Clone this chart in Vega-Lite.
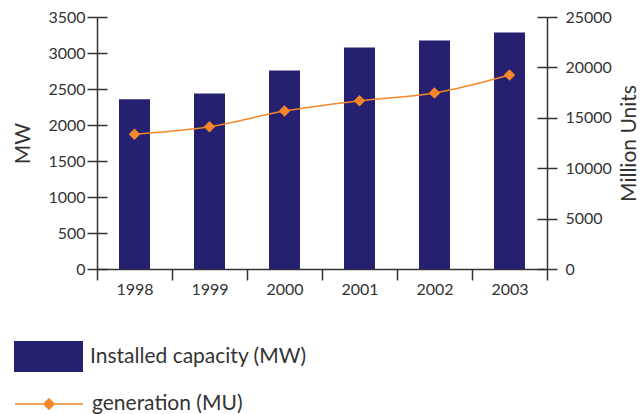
{
  "$schema": "https://vega.github.io/schema/vega-lite/v6.json",
  "width": 450,
  "height": 252,
  "autosize": {"type": "none"},
  "padding": {"left": 97, "top": 17, "right": 96, "bottom": 145},
  "background": "white",
  "config": {
    "view": {"stroke": null},
    "font": "Lato",
    "axis": {"labelFont": "Lato", "titleFont": "Lato", "labelColor": "#333333", "titleColor": "#333333", "domainColor": "#333333", "tickColor": "#333333", "domainWidth": 1.5, "tickWidth": 1.5, "labelFontSize": 16, "titleFontSize": 21, "titleFontWeight": "normal", "grid": false},
    "legend": {"labelFont": "Lato", "labelFontSize": 21, "labelColor": "#333333", "padding": 0, "offset": 0, "labelLimit": 400}
  },
  "data": {"values": [
    {"year": "1998", "capacity": 2356, "generation": 13376},
    {"year": "1999", "capacity": 2439, "generation": 14104},
    {"year": "2000", "capacity": 2757, "generation": 15667},
    {"year": "2001", "capacity": 3075, "generation": 16693},
    {"year": "2002", "capacity": 3172, "generation": 17460},
    {"year": "2003", "capacity": 3283, "generation": 19253}
  ]},
  "encoding": {
    "x": {"field": "year", "type": "ordinal", "scale": {"paddingInner": 0, "paddingOuter": 0},
      "axis": {"title": null, "labelAngle": 0, "tickBand": "extent", "tickSize": 11, "labelPadding": 1}}
  },
  "layer": [
    {
      "mark": {"type": "bar", "width": {"band": 0.413}},
      "encoding": {
        "y": {"field": "capacity", "type": "quantitative", "scale": {"domain": [0, 3500], "nice": false},
          "axis": {"title": "MW", "orient": "left", "format": "d", "values": [0, 500, 1000, 1500, 2000, 2500, 3000, 3500], "tickSize": 10, "labelPadding": 2, "titlePadding": 14}},
        "fill": {"datum": "Installed capacity (MW)", "scale": {"range": ["#25206F"]},
          "legend": {"title": null, "orient": "none", "legendX": -83, "legendY": 305, "symbolType": "M-1,-0.449L1,-0.449L1,0.449L-1,0.449Z", "symbolSize": 4761, "symbolStrokeWidth": 0, "labelOffset": 7}}
      }
    },
    {
      "mark": {"type": "line", "interpolate": "monotone", "strokeWidth": 1.5, "point": {"shape": "diamond", "size": 75, "filled": true, "color": "#F5862A"}},
      "encoding": {
        "y": {"field": "generation", "type": "quantitative", "scale": {"domain": [0, 25000], "nice": false},
          "axis": {"title": "Million Units", "orient": "right", "format": "d", "titleAngle": 270, "titleBaseline": "top", "values": [0, 5000, 10000, 15000, 20000, 25000], "tickSize": 10, "labelPadding": 8, "titlePadding": 7}},
        "stroke": {"datum": "generation (MU)", "scale": {"range": ["#F5862A"]},
          "legend": {"title": null, "orient": "none", "legendX": -83, "legendY": 352, "symbolType": "M-1,0L1,0M-0.15,0L0,-0.15L0.15,0L0,0.15Z", "symbolSize": 4624, "symbolStrokeWidth": 1.5, "labelOffset": 8,
            "encode": {"symbols": {"update": {"fill": {"value": "#F5862A"}, "stroke": {"value": "#F5862A"}}}}}}
      }
    },
    {
      "mark": {"type": "point", "opacity": 0},
      "encoding": {
        "y": {"field": "capacity", "type": "quantitative", "scale": {"domain": [0, 3500], "nice": false},
          "axis": {"title": null, "orient": "left", "labels": false, "domain": false, "values": [0, 500, 1000, 1500, 2000, 2500, 3000, 3500], "tickSize": -10}}
      }
    },
    {
      "mark": {"type": "point", "opacity": 0},
      "encoding": {
        "y": {"field": "generation", "type": "quantitative", "scale": {"domain": [0, 25000], "nice": false},
          "axis": {"title": null, "orient": "right", "labels": false, "domain": false, "values": [0, 5000, 10000, 15000, 20000, 25000], "tickSize": -10}}
      }
    }
  ],
  "resolve": {"scale": {"y": "independent"}}
}
